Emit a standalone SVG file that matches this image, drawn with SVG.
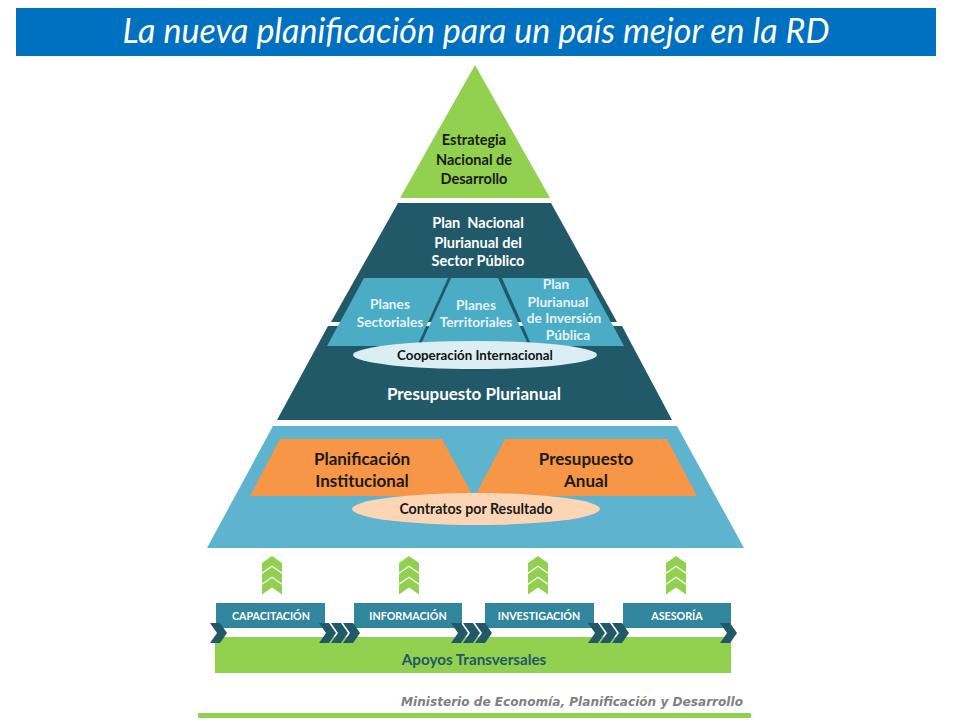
<svg xmlns="http://www.w3.org/2000/svg" width="960" height="720" viewBox="0 0 960 720">
<style>
text{font-family:"Lato","Liberation Sans",sans-serif;font-weight:700;text-anchor:middle;white-space:pre}
.w{fill:#fff}.wl{fill:#e6f3f8}.d{fill:#1a1a1a}
.s14{font-size:14.500px}.s13{font-size:13.700px}.s17{font-size:17px}.s11{font-size:10.700px}
.up{fill:#92d050}.ch{fill:#215968}.box{fill:#31859c}
</style>
<defs>
<path id="up" d="M0 0L10 7V16.500L0 9.500L-10 16.500V7Z"/>
<g id="ups" class="up"><use href="#up" y="0"/><use href="#up" y="11"/><use href="#up" y="22"/></g>
<path id="chev" d="M0 0H10L17 10L10 20H0L7 10Z"/>
<g id="chev3" class="ch"><use href="#chev"/><use href="#chev" x="12"/><use href="#chev" x="24"/></g>
</defs>
<rect width="960" height="720" fill="#fff"/>
<g id="title"><rect x="16" y="8" width="920" height="48" fill="#0070c0"/>
<text x="476" y="43" class="w" style="font-size:34px;font-weight:400;font-style:italic">La nueva planificación para un país mejor en la RD</text></g>
<g id="estrategia"><path d="M475 65L550 198H400Z" fill="#92d050"/>
<text class="d s14" x="474" y="145">Estrategia</text><text class="d s14" x="474" y="165">Nacional de</text><text class="d s14" x="474" y="184">Desarrollo</text></g>
<g id="plan-nacional"><path d="M398 203H551L617 322H331Z" fill="#215968"/>
<text class="w s14" x="478" y="228">Plan  Nacional</text><text class="w s14" x="478" y="248">Plurianual del</text><text class="w s14" x="478" y="266">Sector Público</text></g>
<g id="presupuesto-plurianual"><path d="M328 326H622L672 420H277Z" fill="#215968"/>
<text class="w s17" x="474" y="400">Presupuesto Plurianual</text></g>
<g id="planes-sectoriales"><path d="M364 278H448L419 342L415 346H327Z" fill="#4bacc6"/>
<text class="wl s13" x="390" y="309">Planes</text><text class="wl s13" x="390" y="327">Sectoriales</text></g>
<g id="planes-territoriales"><path d="M451 278H498L527 342V346H420L422 342Z" fill="#4bacc6"/>
<text class="wl s13" x="476" y="310">Planes</text><text class="wl s13" x="476" y="327">Territoriales</text></g>
<g id="plan-inversion"><path d="M502 278H587L624 346H533L530 342Z" fill="#4bacc6"/>
<text class="wl s13" x="556" y="289">Plan</text><text class="wl s13" x="558" y="307">Plurianual</text><text class="wl s13" x="564" y="323">de Inversión</text><text class="wl s13" x="568" y="340">Pública</text></g>
<g id="cooperacion"><ellipse cx="475" cy="355" rx="122" ry="14" fill="#dbeef4"/>
<text x="475" y="360" fill="#111" style="font-size:13.300px">Cooperación Internacional</text></g>
<g id="base"><path d="M273 426H677L744 548H207Z" fill="#5eb3cf"/></g>
<g id="planificacion"><path d="M280 439H442L473 496H250Z" fill="#f79646"/>
<text class="d s17" x="362" y="465">Planificación</text><text class="d s17" x="362" y="487">Institucional</text></g>
<g id="presupuesto-anual"><path d="M505 439H667L697 496H475Z" fill="#f79646"/>
<text class="d s17" x="586" y="465">Presupuesto</text><text class="d s17" x="586" y="487">Anual</text></g>
<g id="contratos"><ellipse cx="476" cy="509" rx="124" ry="16" fill="#fcd5b5"/>
<text class="d" x="476" y="514" style="font-size:14.200px">Contratos por Resultado</text></g>
<g id="connectors">
<use href="#ups" x="272" y="556"/><use href="#ups" x="409" y="556"/><use href="#ups" x="538" y="556"/><use href="#ups" x="676" y="556"/>
</g>
<g id="apoyos"><rect x="215" y="637" width="516" height="36" fill="#92d050"/>
<text x="474" y="665" fill="#215968" style="font-size:15.200px">Apoyos Transversales</text></g>
<g id="capacitacion"><rect class="box" x="216" y="603" width="109" height="25"/><text class="w s11" x="271" y="620">CAPACITACIÓN</text></g>
<g id="informacion"><rect class="box" x="354" y="603" width="108" height="25"/><text class="w s11" x="408" y="620">INFORMACIÓN</text></g>
<g id="investigacion"><rect class="box" x="485" y="603" width="109" height="25"/><text class="w s11" x="539" y="620">INVESTIGACIÓN</text></g>
<g id="asesoria"><rect class="box" x="623" y="603" width="108" height="25"/><text class="w s11" x="677" y="620">ASESORÍA</text></g>
<g id="chevrons">
<use class="ch" href="#chev" x="210" y="623"/><use href="#chev3" x="319" y="623"/><use href="#chev3" x="451" y="623"/><use href="#chev3" x="588" y="623"/><use class="ch" href="#chev" x="720" y="623"/>
</g>
<g id="footer"><text x="572" y="706" fill="#7f7f7f" style="font-family:'DejaVu Sans',sans-serif;font-size:12.100px;font-style:oblique;font-weight:700">Ministerio de Economía, Planificación y Desarrollo</text>
<rect x="198" y="713" width="553" height="5" fill="#92d050"/></g>
</svg>
